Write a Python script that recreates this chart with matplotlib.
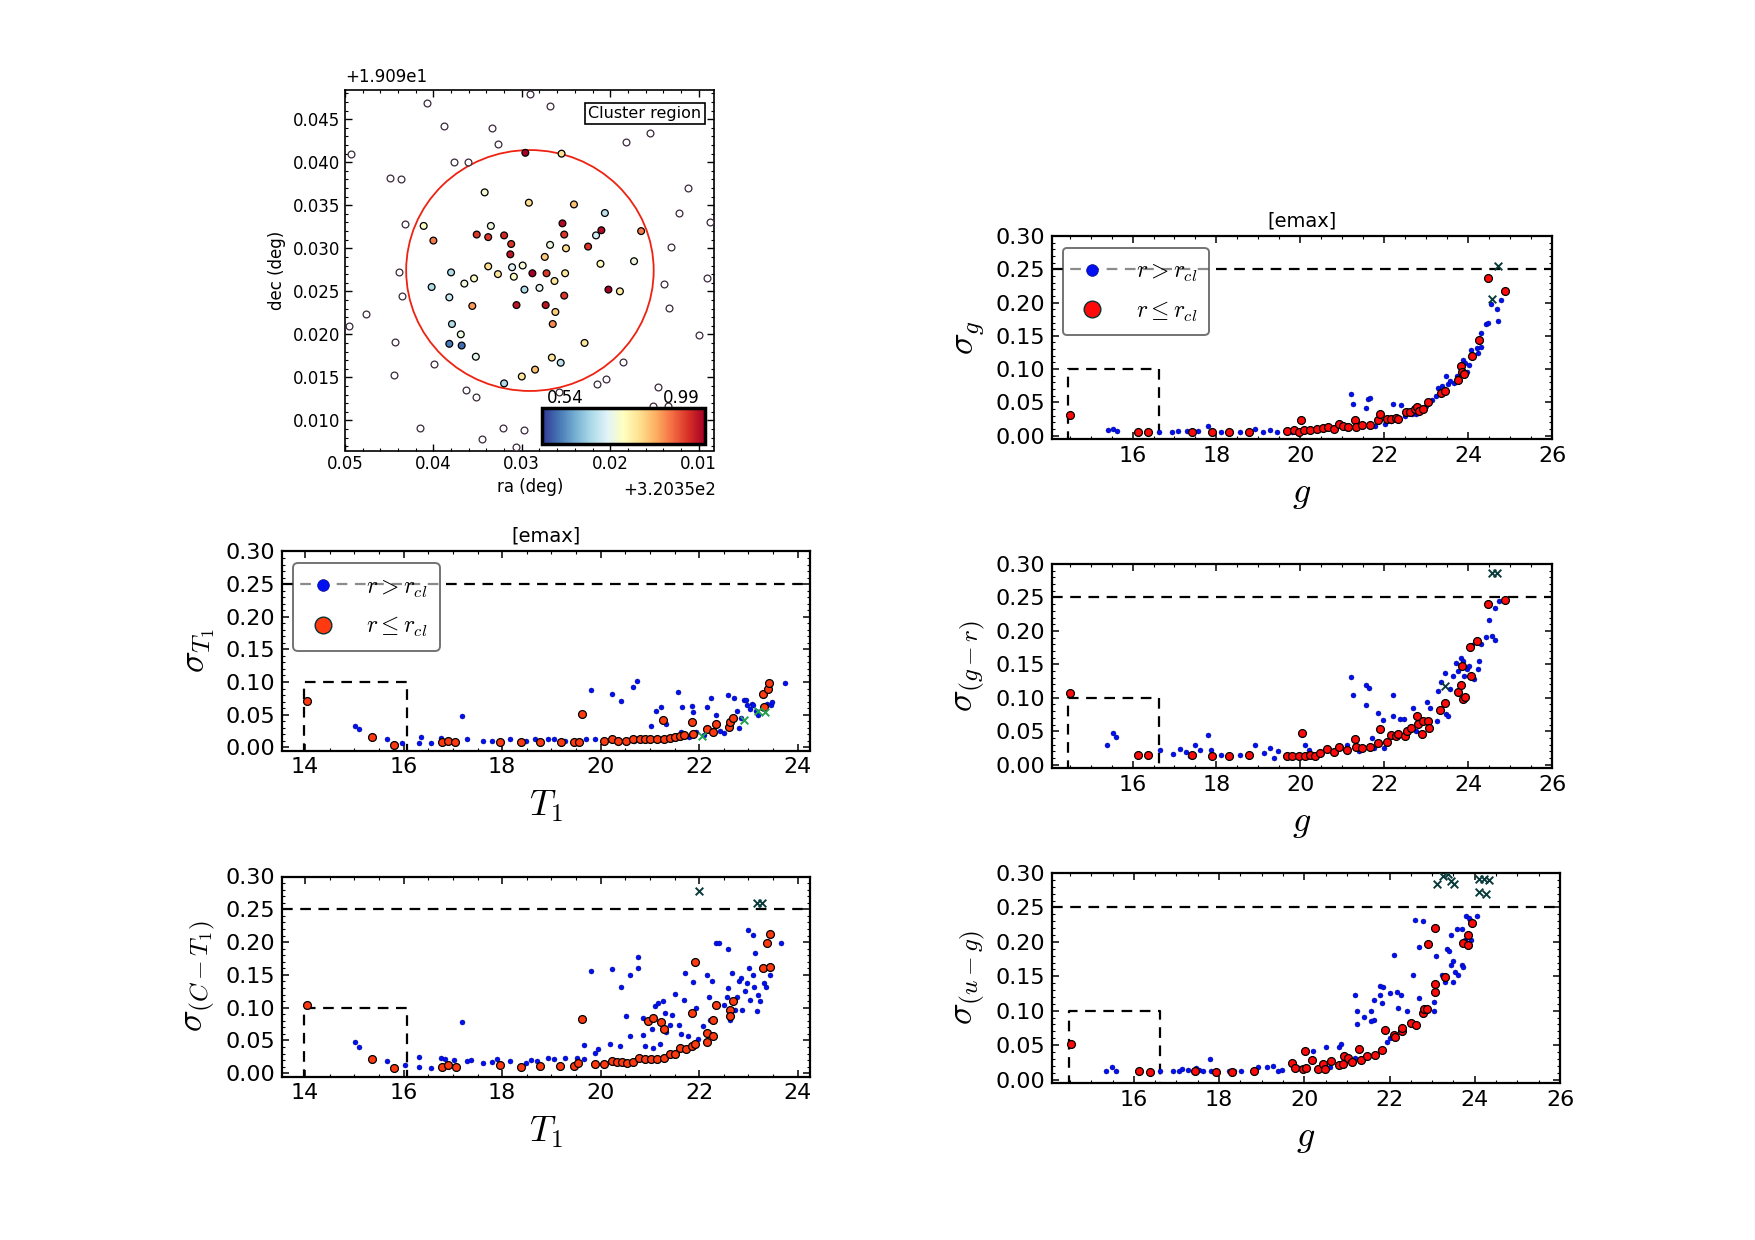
import matplotlib
matplotlib.use('Agg')
import matplotlib.pyplot as plt
import numpy as np
from matplotlib.ticker import MultipleLocator, FormatStrFormatter
from matplotlib.patches import Circle
from matplotlib.lines import Line2D

plt.rcParams['mathtext.fontset'] = 'cm'
plt.rcParams['font.family'] = ['DejaVu Sans']
plt.rcParams['xtick.direction'] = 'in'
plt.rcParams['ytick.direction'] = 'in'
plt.rcParams['xtick.top'] = True
plt.rcParams['ytick.right'] = True

# ---------------- Panel 1: cluster region ----------------
out_ra = [0.0291, 0.0407, 0.0268, 0.0388, 0.0334, 0.0155, 0.0182, 0.0327, 0.0493, 0.0377, 0.0361, 0.0449,
          0.0437, 0.0112, 0.0122, 0.0432, 0.0087, 0.0131, 0.0439, 0.0139, 0.0091, 0.0436, 0.0476, 0.0134,
          0.0495, 0.0100, 0.0443, 0.0185, 0.0399, 0.0445, 0.0205, 0.0215, 0.0146, 0.0363, 0.0352, 0.0258,
          0.0152, 0.0135, 0.0415, 0.0321, 0.0298, 0.0345, 0.0307]
out_dec = [0.0479, 0.0469, 0.0465, 0.0442, 0.0440, 0.0434, 0.0424, 0.0421, 0.0410, 0.0400, 0.0400, 0.0382,
           0.0380, 0.0370, 0.0341, 0.0328, 0.0330, 0.0301, 0.0272, 0.0259, 0.0265, 0.0244, 0.0224, 0.0231,
           0.0210, 0.0199, 0.0191, 0.0168, 0.0166, 0.0153, 0.0148, 0.0142, 0.0139, 0.0135, 0.0127, 0.0133,
           0.0117, 0.0117, 0.0091, 0.0091, 0.0089, 0.0078, 0.0069]
in_ra = [0.0296, 0.0255, 0.0342, 0.0292, 0.0241, 0.0206, 0.0411, 0.0335, 0.0254, 0.0210, 0.0165, 0.0400,
         0.0351, 0.0338, 0.0320, 0.0252, 0.0216, 0.0312, 0.0268, 0.0225, 0.0250, 0.0313, 0.0274, 0.0173,
         0.0211, 0.0338, 0.0299, 0.0311, 0.0380, 0.0327, 0.0288, 0.0272, 0.0251, 0.0309, 0.0354, 0.0365,
         0.0263, 0.0402, 0.0297, 0.0280, 0.0202, 0.0189, 0.0382, 0.0252, 0.0356, 0.0306, 0.0273, 0.0262,
         0.0265, 0.0379, 0.0369, 0.0382, 0.0368, 0.0229, 0.0352, 0.0266, 0.0256, 0.0285, 0.0300, 0.0320]
in_dec = [0.0411, 0.0410, 0.0365, 0.0353, 0.0351, 0.0341, 0.0326, 0.0326, 0.0329, 0.0321, 0.0320, 0.0309,
          0.0316, 0.0313, 0.0315, 0.0316, 0.0315, 0.0305, 0.0304, 0.0302, 0.0300, 0.0293, 0.0290, 0.0285,
          0.0282, 0.0279, 0.0280, 0.0278, 0.0272, 0.0270, 0.0271, 0.0271, 0.0271, 0.0267, 0.0265, 0.0259,
          0.0262, 0.0255, 0.0252, 0.0254, 0.0252, 0.0250, 0.0243, 0.0245, 0.0233, 0.0234, 0.0234, 0.0226,
          0.0212, 0.0212, 0.0200, 0.0189, 0.0187, 0.0190, 0.0174, 0.0173, 0.0167, 0.0159, 0.0151, 0.0143]
in_prob = [0.99, 0.81, 0.75, 0.81, 0.84, 0.69, 0.76, 0.74, 0.98, 0.98, 0.89, 0.89,
           0.94, 0.94, 0.95, 0.94, 0.71, 0.94, 0.74, 0.94, 0.81, 0.97, 0.83, 0.74,
           0.77, 0.81, 0.75, 0.72, 0.68, 0.80, 0.99, 0.94, 0.80, 0.76, 0.76, 0.74,
           0.80, 0.68, 0.68, 0.73, 0.99, 0.79, 0.70, 0.94, 0.87, 0.97, 0.97, 0.83,
           0.88, 0.68, 0.74, 0.59, 0.58, 0.80, 0.73, 0.80, 0.69, 0.84, 0.80, 0.68]
clust_center = (0.02908, 0.02742)
clust_radius = 0.0140
prob_range = (0.54, 0.99)

# ---------------- Panel 2: sigma_g vs g ----------------
g_b_sg = [15.42, 15.54, 15.62, 16.62, 16.94, 17.09, 17.31, 17.56, 17.79, 18.12, 18.55, 18.91, 19.11, 19.28,
          19.45, 19.80, 20.35, 20.75, 21.10, 21.50, 21.20, 21.25, 21.57, 21.61, 21.66, 22.22, 22.41, 21.77,
          22.01, 22.15, 22.36, 22.50, 22.66, 22.75, 22.90, 23.00, 23.15, 23.24, 23.29, 23.38, 23.48, 23.53,
          23.58, 23.67, 23.73, 23.88, 23.93, 24.02, 23.97, 24.07, 24.12, 24.21, 24.23, 24.30, 24.31, 24.43,
          24.48, 24.55, 24.69, 24.71, 24.78]
s_b_sg = [0.008, 0.010, 0.007, 0.005, 0.005, 0.007, 0.007, 0.007, 0.015, 0.005, 0.005, 0.010, 0.006, 0.009,
          0.005, 0.006, 0.009, 0.011, 0.012, 0.014, 0.063, 0.048, 0.042, 0.055, 0.056, 0.048, 0.046, 0.015,
          0.017, 0.022, 0.025, 0.030, 0.032, 0.033, 0.040, 0.045, 0.054, 0.059, 0.072, 0.074, 0.090, 0.077,
          0.082, 0.079, 0.089, 0.114, 0.109, 0.106, 0.096, 0.128, 0.119, 0.131, 0.124, 0.133, 0.155, 0.168,
          0.170, 0.198, 0.190, 0.172, 0.204]
g_r_sg = [14.52, 16.12, 16.36, 17.42, 17.89, 18.29, 18.77, 19.68, 19.84, 19.96, 20.02, 20.09, 20.24, 20.39,
          20.53, 20.67, 20.80, 20.93, 21.02, 21.14, 21.30, 21.33, 21.47, 21.67, 21.85, 21.89, 22.06, 22.17,
          22.28, 22.33, 22.53, 22.62, 22.73, 22.78, 22.83, 22.93, 23.04, 23.36, 23.46, 23.76, 23.84, 23.86,
          23.90, 24.09, 24.25, 24.48, 24.88]
s_r_sg = [0.031, 0.006, 0.006, 0.006, 0.005, 0.005, 0.005, 0.007, 0.008, 0.006, 0.023, 0.009, 0.009, 0.010,
          0.011, 0.013, 0.010, 0.017, 0.014, 0.013, 0.023, 0.013, 0.016, 0.016, 0.023, 0.032, 0.025, 0.025,
          0.027, 0.025, 0.035, 0.036, 0.040, 0.043, 0.037, 0.040, 0.051, 0.064, 0.067, 0.084, 0.104, 0.096,
          0.093, 0.120, 0.143, 0.237, 0.218]
g_x_sg = [24.72, 24.57]
s_x_sg = [0.255, 0.205]

# ---------------- Panel 3: sigma_T1 vs T1 ----------------
t_b_st = [15.02, 15.09, 15.67, 15.97, 16.32, 16.36, 16.55, 16.75, 17.19, 17.29, 17.62, 17.80, 18.16, 18.49,
          18.66, 18.93, 19.05, 19.27, 19.71, 19.80, 19.88, 20.23, 20.41, 20.65, 20.74, 20.67, 20.90, 21.20,
          21.50, 21.80, 22.10, 22.50, 22.80, 21.02, 21.13, 21.22, 21.33, 21.56, 21.63, 21.66, 21.86, 21.87,
          21.94, 22.16, 22.25, 22.34, 22.42, 22.58, 22.71, 22.77, 22.84, 22.90, 22.96, 22.97, 23.03, 23.08,
          23.10, 23.16, 23.19, 23.38, 23.45, 23.48, 23.75]
s_b_st = [0.032, 0.028, 0.013, 0.007, 0.007, 0.015, 0.006, 0.014, 0.048, 0.013, 0.009, 0.010, 0.012, 0.010,
          0.012, 0.012, 0.013, 0.010, 0.012, 0.088, 0.012, 0.081, 0.071, 0.092, 0.101, 0.010, 0.011, 0.012,
          0.014, 0.016, 0.018, 0.022, 0.030, 0.033, 0.056, 0.062, 0.035, 0.085, 0.024, 0.061, 0.063, 0.054,
          0.023, 0.061, 0.075, 0.050, 0.025, 0.080, 0.075, 0.055, 0.045, 0.072, 0.073, 0.065, 0.058, 0.067,
          0.065, 0.055, 0.050, 0.067, 0.065, 0.070, 0.098]
t_r_st = [14.03, 15.36, 15.81, 16.77, 16.91, 17.04, 17.95, 18.38, 18.76, 19.20, 19.45, 19.57, 19.62, 20.06,
          20.22, 20.36, 20.52, 20.65, 20.79, 20.89, 21.00, 21.14, 21.27, 21.29, 21.40, 21.50, 21.61, 21.70,
          21.86, 21.88, 22.16, 22.28, 22.35, 22.60, 22.63, 22.68, 23.31, 23.30, 23.40, 23.42]
s_r_st = [0.071, 0.015, 0.004, 0.008, 0.009, 0.008, 0.008, 0.008, 0.008, 0.008, 0.008, 0.008, 0.051, 0.009,
          0.012, 0.010, 0.009, 0.012, 0.012, 0.013, 0.013, 0.013, 0.041, 0.013, 0.014, 0.015, 0.017, 0.019,
          0.038, 0.020, 0.028, 0.024, 0.036, 0.031, 0.038, 0.045, 0.061, 0.082, 0.089, 0.098]
t_x_st = [22.05, 22.92, 23.20, 23.34]
s_x_st = [0.017, 0.042, 0.055, 0.054]

# ---------------- Panel 4: sigma_(g-r) vs g ----------------
g_b_sgr = [15.40, 15.54, 15.61, 16.66, 16.96, 17.12, 17.28, 17.36, 17.49, 17.60, 17.79, 17.87, 18.12, 18.55,
           18.91, 19.14, 19.28, 19.38, 19.46, 20.10, 20.20, 21.12, 21.40, 21.72, 21.76, 22.00, 21.21, 21.25,
           21.57, 21.63, 21.57, 21.85, 21.97, 22.22, 22.22, 22.38, 22.46, 22.68, 22.75, 22.85, 23.02, 23.09,
           23.26, 23.29, 23.36, 23.46, 23.48, 23.53, 23.58, 23.63, 23.71, 23.75, 23.83, 23.88, 23.91, 23.97,
           24.02, 24.10, 24.15, 24.23, 24.26, 24.30, 24.42, 24.49, 24.58, 24.63, 24.63, 24.73]
s_b_sgr = [0.029, 0.0475, 0.0415, 0.0225, 0.016, 0.024, 0.019, 0.0135, 0.030, 0.0225, 0.044, 0.0215, 0.015, 0.015,
           0.030, 0.0175, 0.025, 0.010, 0.021, 0.029, 0.0225, 0.030, 0.020, 0.040, 0.025, 0.025, 0.1315, 0.104,
           0.119, 0.114, 0.089, 0.0765, 0.0665, 0.0725, 0.1035, 0.069, 0.069, 0.084, 0.050, 0.0475, 0.0935, 0.085,
           0.065, 0.110, 0.1235, 0.1375, 0.075, 0.0725, 0.1135, 0.1325, 0.1525, 0.140, 0.160, 0.155, 0.1325, 0.1425,
           0.1475, 0.1785, 0.1275, 0.1425, 0.155, 0.180, 0.1915, 0.216, 0.1925, 0.1865, 0.2335, 0.244]
g_r_sgr = [14.52, 16.12, 16.36, 17.42, 17.89, 18.29, 18.77, 19.68, 19.79, 19.96, 20.05, 20.10, 20.22, 20.34,
           20.48, 20.63, 20.80, 20.93, 21.11, 21.31, 21.33, 21.47, 21.67, 21.85, 21.89, 22.07, 22.16, 22.28,
           22.33, 22.50, 22.55, 22.63, 22.77, 22.80, 22.90, 22.93, 23.04, 23.06, 23.34, 23.46, 23.76, 23.82,
           23.86, 23.88, 23.93, 24.04, 24.08, 24.22, 24.48, 24.87]
s_r_sgr = [0.1075, 0.015, 0.015, 0.015, 0.0125, 0.0135, 0.015, 0.0135, 0.0135, 0.0135, 0.047, 0.0135, 0.015, 0.0135,
           0.017, 0.0235, 0.019, 0.0265, 0.0215, 0.0385, 0.0265, 0.025, 0.0265, 0.032, 0.0535, 0.0335, 0.0445, 0.0435,
           0.046, 0.0425, 0.051, 0.055, 0.072, 0.061, 0.046, 0.066, 0.066, 0.0545, 0.081, 0.0915, 0.109, 0.119,
           0.1475, 0.0975, 0.1015, 0.176, 0.1325, 0.1845, 0.2395, 0.246]
g_x_sgr = [24.58, 24.70, 23.44]
s_x_sgr = [0.287, 0.287, 0.1175]

# ---------------- Panel 5: sigma_(C-T1) vs T1 ----------------
t_b_sct = [15.02, 15.09, 15.67, 16.02, 16.32, 16.32, 16.55, 16.75, 16.84, 17.02, 17.19, 17.29, 17.36, 17.62,
           17.80, 17.90, 18.16, 18.49, 18.58, 18.71, 18.93, 19.05, 19.27, 19.51, 19.66, 19.66, 19.80, 19.88,
           19.95, 20.23, 20.19, 20.39, 20.41, 20.52, 20.60, 20.59, 20.76, 20.76, 20.85, 20.85, 20.91, 21.04,
           21.06, 21.11, 21.17, 21.20, 21.26, 21.30, 21.32, 21.40, 21.45, 21.51, 21.59, 21.63, 21.70, 21.72,
           21.78, 21.88, 21.94, 21.98, 22.08, 22.15, 22.20, 22.22, 22.26, 22.34, 22.41, 22.50, 22.57, 22.58,
           22.58, 22.63, 22.67, 22.72, 22.76, 22.80, 22.85, 22.86, 22.93, 22.97, 23.00, 23.02, 23.04, 23.09,
           23.10, 23.12, 23.14, 23.17, 23.19, 23.23, 23.32, 23.36, 23.43, 23.45, 23.66]
s_b_sct = [0.0475, 0.040, 0.018, 0.0131, 0.0247, 0.0101, 0.0086, 0.0237, 0.0212, 0.0202, 0.0778, 0.0187, 0.0202, 0.0152,
           0.0177, 0.0212, 0.0187, 0.0162, 0.0202, 0.0187, 0.0237, 0.0222, 0.0237, 0.0237, 0.0424, 0.0212, 0.156, 0.0313,
           0.0374, 0.1586, 0.0439, 0.0414, 0.131, 0.0869, 0.150, 0.0566, 0.160, 0.178, 0.058, 0.0843, 0.0414, 0.0667,
           0.0389, 0.102, 0.107, 0.0439, 0.1096, 0.0919, 0.0626, 0.0742, 0.0894, 0.1212, 0.0742, 0.0591, 0.112, 0.1535,
           0.0566, 0.139, 0.0995, 0.0515, 0.0717, 0.150, 0.117, 0.0818, 0.141, 0.198, 0.198, 0.1045, 0.117, 0.189,
           0.130, 0.0818, 0.1525, 0.097, 0.117, 0.140, 0.145, 0.097, 0.1247, 0.1374, 0.218, 0.160, 0.111, 0.150,
           0.2106, 0.132, 0.184, 0.0944, 0.120, 0.1096, 0.1374, 0.131, 0.150, 0.2106, 0.198]
t_r_sct = [14.03, 15.36, 15.81, 16.77, 16.91, 17.06, 17.95, 18.38, 18.76, 19.18, 19.45, 19.53, 19.62, 19.89,
           20.06, 20.22, 20.33, 20.44, 20.54, 20.65, 20.77, 20.89, 20.96, 21.06, 21.02, 21.14, 21.23, 21.29,
           21.29, 21.40, 21.50, 21.61, 21.74, 21.86, 21.86, 21.92, 21.92, 22.16, 22.16, 22.28, 22.28, 22.35,
           22.62, 22.62, 22.68, 23.30, 23.37, 23.43, 23.43]
s_r_sct = [0.1045, 0.022, 0.0086, 0.0101, 0.0126, 0.0101, 0.0126, 0.0101, 0.011, 0.011, 0.011, 0.016, 0.082, 0.0136,
           0.0136, 0.0187, 0.0177, 0.0177, 0.0152, 0.0177, 0.0227, 0.0222, 0.0793, 0.0843, 0.0212, 0.0222, 0.0778, 0.0677,
           0.0237, 0.0298, 0.0298, 0.0389, 0.0374, 0.0414, 0.0919, 0.170, 0.045, 0.048, 0.0616, 0.0818, 0.0566, 0.1045,
           0.096, 0.0869, 0.1106, 0.160, 0.198, 0.1616, 0.2116]
t_x_sct = [22.00, 23.18, 23.27]
s_x_sct = [0.278, 0.259, 0.259]

# ---------------- Panel 6: sigma_(u-g) vs g ----------------
g_b_sug = [15.34, 15.48, 15.57, 16.62, 16.92, 17.06, 17.12, 17.28, 17.46, 17.54, 17.63, 17.79, 17.81, 18.23,
           18.35, 18.51, 18.92, 19.12, 19.26, 19.38, 19.48, 19.87, 20.21, 20.52, 20.60, 20.81, 20.87, 21.19,
           21.19, 21.23, 21.23, 21.39, 21.57, 21.63, 21.57, 21.63, 21.77, 21.84, 21.77, 21.83, 21.77, 21.94,
           22.02, 22.01, 22.10, 22.17, 22.26, 22.20, 22.40, 22.54, 22.60, 22.68, 22.70, 22.79, 23.04, 23.04,
           23.10, 23.24, 23.29, 23.35, 23.39, 23.45, 23.48, 23.44, 23.49, 23.53, 23.59, 23.61, 23.69, 23.73,
           23.71, 23.77, 23.79, 23.89, 23.91, 24.05, 23.87]
s_b_sug = [0.013, 0.0176, 0.013, 0.013, 0.012, 0.013, 0.015, 0.014, 0.0167, 0.014, 0.012, 0.030, 0.012, 0.013,
           0.012, 0.012, 0.018, 0.0176, 0.020, 0.013, 0.014, 0.017, 0.041, 0.047, 0.018, 0.047, 0.0515, 0.1225,
           0.032, 0.0995, 0.081, 0.091, 0.100, 0.0865, 0.0855, 0.1155, 0.136, 0.135, 0.1235, 0.1115, 0.043, 0.055,
           0.060, 0.125, 0.181, 0.1275, 0.1235, 0.1035, 0.0995, 0.1515, 0.232, 0.193, 0.119, 0.230, 0.113, 0.0995,
           0.179, 0.1515, 0.142, 0.190, 0.187, 0.210, 0.142, 0.167, 0.172, 0.156, 0.219, 0.1515, 0.167, 0.1635,
           0.218, 0.202, 0.238, 0.232, 0.202, 0.237, 0.234]
g_r_sug = [14.52, 16.13, 16.37, 17.44, 17.93, 18.31, 18.81, 19.71, 19.79, 19.96, 20.02, 20.04, 20.17, 20.32,
           20.44, 20.48, 20.63, 20.82, 20.91, 20.94, 21.03, 21.11, 21.29, 21.33, 21.47, 21.67, 21.83, 21.89,
           22.10, 22.14, 22.30, 22.30, 22.50, 22.62, 22.78, 22.80, 22.88, 22.90, 23.06, 23.06, 23.06, 23.31,
           23.73, 23.83, 23.85, 23.93]
s_r_sug = [0.052, 0.012, 0.0105, 0.012, 0.0105, 0.0105, 0.013, 0.024, 0.017, 0.016, 0.041, 0.017, 0.029, 0.016,
           0.022, 0.016, 0.027, 0.021, 0.022, 0.034, 0.031, 0.026, 0.045, 0.029, 0.034, 0.036, 0.043, 0.072,
           0.065, 0.0625, 0.070, 0.0755, 0.082, 0.079, 0.096, 0.102, 0.103, 0.197, 0.220, 0.1395, 0.1275, 0.149,
           0.199, 0.210, 0.195, 0.228]
g_x_sug = [23.11, 23.25, 23.37, 23.45, 23.51, 24.09, 24.21, 24.33, 24.10, 24.27]
s_x_sug = [0.284, 0.296, 0.298, 0.289, 0.284, 0.291, 0.292, 0.290, 0.273, 0.269]

emax = 0.25
box_g = (14.47, 16.62)
box_t = (13.98, 16.07)
box_top = 0.10
xlim_g = (14.08, 26.0)
xlim_t = (13.53, 24.25)

W, H = 1755, 1240
fig = plt.figure(figsize=(W / 100, H / 100), dpi=100)
fig.patch.set_facecolor('white')


def fax(l, r, t, b):
    return fig.add_axes([l / W, (H - b) / H, (r - l) / W, (b - t) / H])


# ---------- panel 1 ----------
ax1 = fax(345, 714.5, 90, 450.5)
ax1.scatter(out_ra, out_dec, s=24, facecolors='white', edgecolors='#3a2a3a', linewidths=0.9, zorder=3)
sc = ax1.scatter(in_ra, in_dec, s=24, c=in_prob, cmap='RdYlBu_r', vmin=prob_range[0], vmax=prob_range[1],
                 edgecolors='k', linewidths=0.9, zorder=4)
ax1.add_patch(Circle(clust_center, clust_radius, fill=False, edgecolor='#ee2211', lw=1.3, zorder=2))
ax1.set_xlim(0.05, 0.0082)
ax1.set_ylim(0.0065, 0.0484)
ax1.xaxis.set_major_locator(MultipleLocator(0.01))
ax1.xaxis.set_minor_locator(MultipleLocator(0.002))
ax1.yaxis.set_major_locator(MultipleLocator(0.005))
ax1.yaxis.set_minor_locator(MultipleLocator(0.001))
ax1.xaxis.set_major_formatter(FormatStrFormatter('%.2f'))
ax1.yaxis.set_major_formatter(FormatStrFormatter('%.3f'))
ax1.tick_params(which='major', labelsize=12, length=5, width=1)
ax1.tick_params(which='minor', length=2.5, width=0.8)
for sp in ax1.spines.values():
    sp.set_linewidth(1.2)
ax1.set_xlabel('ra (deg)', fontsize=12, labelpad=3)
ax1.set_ylabel('dec (deg)', fontsize=12, labelpad=5)
ax1.text(0.0, 1.012, '+1.909e1', transform=ax1.transAxes, fontsize=12, ha='left', va='bottom')
ax1.text(1.005, -0.085, '+3.2035e2', transform=ax1.transAxes, fontsize=12, ha='right', va='top')
ax1.text(0.965, 0.955, 'Cluster region', transform=ax1.transAxes, fontsize=11.5, ha='right', va='top',
         bbox=dict(boxstyle='square,pad=0.2', facecolor='white', edgecolor='k', lw=1.2), zorder=6)
cax = fax(542, 705, 408, 444)
cb = fig.colorbar(sc, cax=cax, orientation='horizontal')
cb.set_ticks([])
cb.outline.set_linewidth(2.5)
cax.text(0.03, 1.04, '%.2f' % prob_range[0], transform=cax.transAxes, fontsize=12, ha='left', va='bottom')
cax.text(0.97, 1.04, '%.2f' % prob_range[1], transform=cax.transAxes, fontsize=12, ha='right', va='bottom')


def err_panel(ax, xb, yb, xr, yr, xx, yx, xlim, box, red, xx_col, xlabel, ylabel, title=False, legend=False):
    ax.axhline(emax, color='k', ls=(0, (4.8, 3.4)), lw=1.6, zorder=2)
    ax.plot([box[0], box[0], box[1], box[1]], [-0.01, box_top, box_top, -0.01], color='k',
            ls=(0, (4.8, 3.4)), lw=1.6, zorder=2)
    ax.scatter(xb, yb, s=13, c='#0010f0', edgecolors='#000070', linewidths=0.3, zorder=3)
    ax.scatter(xr, yr, s=32, c=red, edgecolors='k', linewidths=0.9, zorder=4)
    ax.scatter(xx, yx, marker='x', s=30, c=xx_col, linewidths=1.4, zorder=5)
    ax.set_xlim(*xlim)
    ax.set_ylim(-0.005, 0.30)
    ax.xaxis.set_major_locator(MultipleLocator(2))
    ax.xaxis.set_minor_locator(MultipleLocator(0.5))
    ax.yaxis.set_major_locator(MultipleLocator(0.05))
    ax.yaxis.set_minor_locator(MultipleLocator(0.01))
    ax.yaxis.set_major_formatter(FormatStrFormatter('%.2f'))
    ax.tick_params(which='major', labelsize=16, length=5, width=1.1, pad=5)
    ax.tick_params(which='minor', length=2.5, width=0.8)
    for sp in ax.spines.values():
        sp.set_linewidth(1.6)
    ax.set_xlabel(xlabel, fontsize=26, labelpad=8)
    ax.set_ylabel(ylabel, fontsize=26, labelpad=6)
    if title:
        ax.set_title('[emax]', fontsize=14, pad=7)
    if legend:
        h1 = Line2D([], [], ls='none', marker='o', ms=8.5, mfc='#0010f0', mec='#000070', mew=0.4)
        h2 = Line2D([], [], ls='none', marker='o', ms=12, mfc=red, mec='#0a3030', mew=1.0)
        leg = ax.legend([h1, h2], [r'$r>r_{cl}$', r'$r\leq r_{cl}$'], loc='upper left',
                        bbox_to_anchor=(0.021, 0.943), borderaxespad=0, fontsize=17, framealpha=0.55,
                        fancybox=True, edgecolor='k', handlelength=1.5, handletextpad=1.1,
                        labelspacing=0.6, borderpad=0.5)
        leg.get_frame().set_linewidth(1.4)
        leg.set_zorder(6)


ax2 = fax(1052, 1552, 236, 439)
err_panel(ax2, g_b_sg, s_b_sg, g_r_sg, s_r_sg, g_x_sg, s_x_sg, xlim_g, box_g, '#ff0a0a', '#0a3a3a',
          r'$g$', r'$\sigma_g$', title=True, legend=True)
ax3 = fax(282, 810, 551.5, 750.5)
err_panel(ax3, t_b_st, s_b_st, t_r_st, s_r_st, t_x_st, s_x_st, xlim_t, box_t, '#ff3a10', '#20a050',
          r'$T_1$', r'$\sigma_{T_1}$', title=True, legend=True)
ax4 = fax(1052, 1552, 564, 768)
err_panel(ax4, g_b_sgr, s_b_sgr, g_r_sgr, s_r_sgr, g_x_sgr, s_x_sgr, xlim_g, box_g, '#ff0a0a', '#0a3a3a',
          r'$g$', r'$\sigma_{(g-r)}$')
ax5 = fax(282, 810, 876.5, 1076.5)
err_panel(ax5, t_b_sct, s_b_sct, t_r_sct, s_r_sct, t_x_sct, s_x_sct, xlim_t, box_t, '#ff3a10', '#0a3a3a',
          r'$T_1$', r'$\sigma_{(C-T_1)}$')
ax6 = fax(1052, 1560, 873, 1083)
err_panel(ax6, g_b_sug, s_b_sug, g_r_sug, s_r_sug, g_x_sug, s_x_sug, xlim_g, box_g, '#ff0a0a', '#0a3a3a',
          r'$g$', r'$\sigma_{(u-g)}$')

fig.savefig('out.png', dpi=100, facecolor='white')
